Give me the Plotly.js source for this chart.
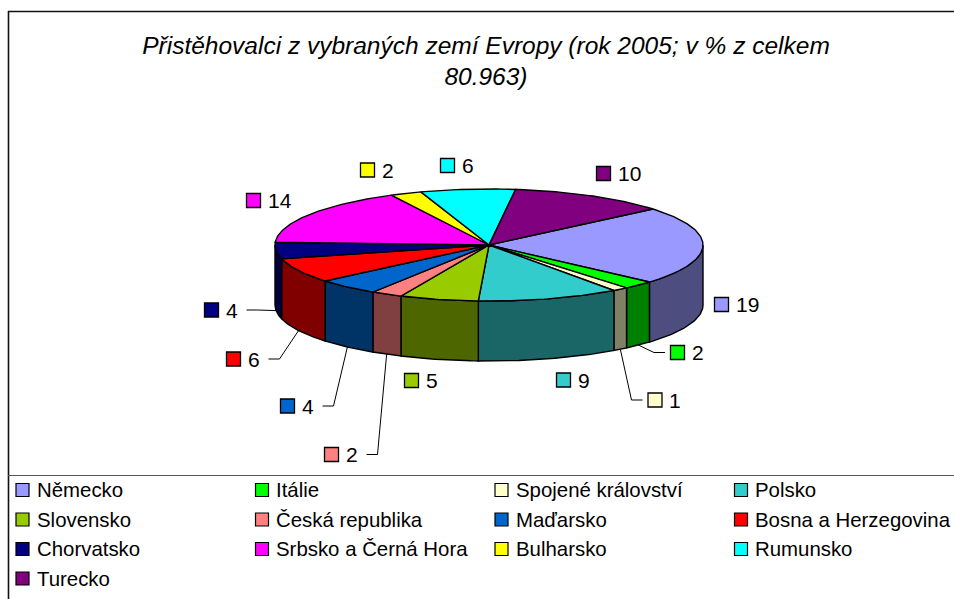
<!DOCTYPE html>
<html><head><meta charset="utf-8">
<script src="https://cdn.plot.ly/plotly-3.0.1.min.js"></script>
<style>html,body{margin:0;padding:0;background:#fff}#chart{width:954px;height:599px}</style>
</head><body><div id="chart"></div>
<script>
// ---------- data ----------
const categories = ['Německo','Itálie','Spojené království','Polsko','Slovensko','Česká republika','Maďarsko','Bosna a Herzegovina','Chorvatsko','Srbsko a Černá Hora','Bulharsko','Rumunsko','Turecko'];
const values = [19,2,1,9,5,2,4,6,4,14,2,6,10];
const colors = ['#9999FF','#00FF00','#FFFFCC','#33CCCC','#99CC00','#FF8080','#0066CC','#FF0000','#000080','#FF00FF','#FFFF00','#00FFFF','#800080'];
const titleText = 'Přistěhovalci z vybraných zemí Evropy (rok 2005; v % z celkem<br>80.963)';

// ---------- layout / geometry (pixels) ----------
const W = 954, H = 599;
const PIE = {cx: 489, cy: 245, rx: 214, ry: 56, depth: 60, rotation: 50};
const labelPos = [[721.5,304.5],[677.5,352.5],[655,400],[563.5,380],[411.5,380.5],[331.5,454.5],[287.5,406],[233.5,359],[211.5,310],[253.5,200.5],[367.5,170],[447.5,165.5],[603.5,173.5]];
const hasLeader = [false,true,true,false,false,true,true,true,true,false,false,false,false];
const FONT = 'Liberation Sans, Arial, sans-serif';

function darker(hex){
  const n = parseInt(hex.slice(1),16);
  const r = Math.round(((n>>16)&255)/2), g = Math.round(((n>>8)&255)/2), b = Math.round((n&255)/2);
  return 'rgb('+r+','+g+','+b+')';
}
function pt(theta, dy){
  const r = theta*Math.PI/180;
  return [PIE.cx + PIE.rx*Math.sin(r), PIE.cy - PIE.ry*Math.cos(r) + (dy||0)];
}
function arc(a0, a1, dy){
  const n = Math.max(2, Math.ceil(Math.abs(a1-a0)));
  const xs = [], ys = [];
  for(let i=0;i<=n;i++){ const p = pt(a0+(a1-a0)*i/n, dy); xs.push(p[0]); ys.push(p[1]); }
  return [xs, ys];
}

const total = values.reduce((a,b)=>a+b,0);
const sides = [], tops = [], mids = [];
let a = PIE.rotation;
values.forEach((v,i)=>{
  const a0 = a, a1 = a + v/total*360; a = a1;
  mids.push((a0+a1)/2);
  const s0 = Math.max(a0, 90), s1 = Math.min(a1, 270);
  if(s0 < s1){
    const t = arc(s0, s1, 0), b = arc(s1, s0, PIE.depth);
    sides.push({type:'scatter', mode:'lines', x: t[0].concat(b[0], [t[0][0]]), y: t[1].concat(b[1], [t[1][0]]),
      fill:'toself', fillcolor: darker(colors[i]), line:{color:'#000', width:1.4},
      name: categories[i], text: values[i]+' %', hoverinfo:'name+text', showlegend:false});
  }
  const t = arc(a0, a1, 0);
  tops.push({type:'scatter', mode:'lines', x: [PIE.cx].concat(t[0], [PIE.cx]), y: [PIE.cy].concat(t[1], [PIE.cy]),
    fill:'toself', fillcolor: colors[i], line:{color:'#000', width:1.4},
    name: categories[i], text: values[i]+' %', hoverinfo:'name+text', showlegend:false});
});

const shapes = [], annotations = [];
// frame
shapes.push({type:'line', x0:8, x1:W, y0:11.5, y1:11.5, line:{color:'#111', width:1.6}});
shapes.push({type:'line', x0:8.5, x1:8.5, y0:11, y1:H, line:{color:'#111', width:1.6}});
shapes.push({type:'line', x0:8, x1:W, y0:475.5, y1:475.5, line:{color:'#555', width:1.2}});

// data labels
values.forEach((v,i)=>{
  const [lx, ly] = labelPos[i];
  shapes.push({type:'rect', x0:lx-7, x1:lx+7, y0:ly-7, y1:ly+7, fillcolor:colors[i], line:{color:'#000', width:1.3}});
  annotations.push({x: lx+12, y: ly, xanchor:'left', yanchor:'middle', text: String(v), showarrow:false,
    font:{family:FONT, size:21, color:'#000'}});
  if(hasLeader[i]){
    const p = pt(mids[i], PIE.depth);
    let sx, ex;
    if(lx < p[0]){ sx = lx + 35; ex = sx + 11; } else { sx = lx - 12.5; ex = sx - 11; }
    shapes.push({type:'path', path:'M'+sx+','+ly+' L'+ex+','+ly+' L'+p[0]+','+p[1], line:{color:'#000', width:1}});
  }
});

// legend (4 columns)
categories.forEach((c,i)=>{
  const col = i%4, row = Math.floor(i/4);
  const sx = 22.5 + 239.5*col, sy = 490 + 29.5*row;
  shapes.push({type:'rect', x0:sx-6.5, x1:sx+6.5, y0:sy-6.5, y1:sy+6.5, fillcolor:colors[i], line:{color:'#000', width:1.2}});
  annotations.push({x: sx+12, y: sy, xanchor:'left', yanchor:'middle', text: c, showarrow:false,
    font:{family:FONT, size:20.4, color:'#000'}});
});

const layout = {
  width: W, height: H,
  margin:{l:0, r:0, t:0, b:0, pad:0},
  paper_bgcolor:'#fff', plot_bgcolor:'#fff',
  showlegend:false,
  title:{text:titleText, font:{family:FONT, size:24.5, color:'#000', style:'italic'},
    x: 486/W, xanchor:'center', xref:'container', y: 1-53.5/H, yanchor:'middle', yref:'container'},
  xaxis:{range:[0,W], visible:false, fixedrange:true},
  yaxis:{range:[H,0], visible:false, fixedrange:true},
  shapes: shapes, annotations: annotations
};
Plotly.newPlot('chart', sides.concat(tops), layout, {displayModeBar:false, staticPlot:false});
</script></body></html>
